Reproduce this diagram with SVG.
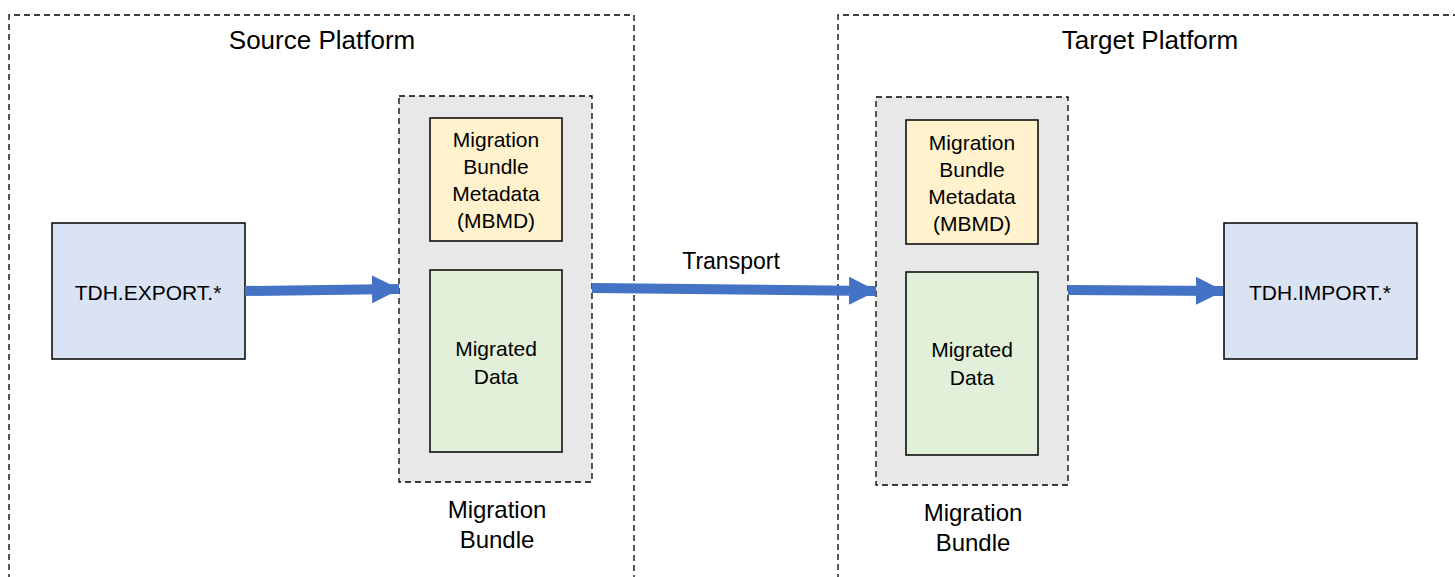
<svg xmlns="http://www.w3.org/2000/svg" width="1455" height="577" viewBox="0 0 1455 577">
<style>
text{font-family:"Liberation Sans",Arial,sans-serif;fill:#000;text-anchor:middle}
.plat{fill:none;stroke:#000;stroke-width:1.3;stroke-dasharray:6 4}
.bundle{fill:#E8E8E8;stroke:#000;stroke-width:1.3;stroke-dasharray:6 4}
.meta{fill:#FFF2CC;stroke:#000;stroke-width:1.5}
.data{fill:#E2F0D9;stroke:#000;stroke-width:1.5}
.proc{fill:#DAE3F3;stroke:#000;stroke-width:1.5}
.t26{font-size:26px}.t24{font-size:24px}.t23{font-size:23px}.t21{font-size:21px}
.arr{fill:none;stroke:#4472C4;stroke-width:10}
</style>
<defs>
<marker id="ah" markerUnits="userSpaceOnUse" markerWidth="28" markerHeight="28" refX="27" refY="14" orient="auto">
<path d="M0,0 L28,14 L0,28 Z" fill="#4472C4"/>
</marker>
</defs>
<g id="source-platform">
<path class="plat" d="M9,590 L9,15 L634,15 L634,590"/>
<text class="t26" x="322" y="49">Source Platform</text>
</g>
<g id="target-platform">
<path class="plat" d="M838,590 L838,15 L1470,15"/>
<text class="t26" x="1150" y="49">Target Platform</text>
</g>
<g id="source-bundle">
<rect class="bundle" x="399" y="96" width="193" height="386"/>
<text class="t24" x="497" y="518">Migration</text>
<text class="t24" x="497" y="548">Bundle</text>
</g>
<g id="source-mbmd">
<rect class="meta" x="430" y="118" width="132" height="123"/>
<text class="t21" x="496" y="147">Migration</text>
<text class="t21" x="496" y="174">Bundle</text>
<text class="t21" x="496" y="201">Metadata</text>
<text class="t21" x="496" y="228">(MBMD)</text>
</g>
<g id="source-data">
<rect class="data" x="430" y="270" width="132" height="182"/>
<text class="t21" x="496" y="356">Migrated</text>
<text class="t21" x="496" y="384">Data</text>
</g>
<g id="target-bundle">
<rect class="bundle" x="876" y="97" width="192" height="388"/>
<text class="t24" x="973" y="521">Migration</text>
<text class="t24" x="973" y="551">Bundle</text>
</g>
<g id="target-mbmd">
<rect class="meta" x="906" y="120" width="132" height="124"/>
<text class="t21" x="972" y="150">Migration</text>
<text class="t21" x="972" y="177">Bundle</text>
<text class="t21" x="972" y="204">Metadata</text>
<text class="t21" x="972" y="231">(MBMD)</text>
</g>
<g id="target-data">
<rect class="data" x="906" y="272" width="132" height="183"/>
<text class="t21" x="972" y="357">Migrated</text>
<text class="t21" x="972" y="385">Data</text>
</g>
<g id="export">
<rect class="proc" x="52" y="223" width="193" height="136"/>
<text class="t21" x="148" y="300">TDH.EXPORT.*</text>
</g>
<g id="import">
<rect class="proc" x="1224" y="223" width="193" height="136"/>
<text class="t21" x="1320" y="300">TDH.IMPORT.*</text>
</g>
<g id="connectors">
<line class="arr" x1="245" y1="291" x2="399" y2="289" marker-end="url(#ah)"/>
<line class="arr" x1="592" y1="288" x2="876" y2="291" marker-end="url(#ah)"/>
<text class="t23" x="731" y="269">Transport</text>
<line class="arr" x1="1068" y1="290" x2="1223" y2="291" marker-end="url(#ah)"/>
</g>
</svg>
